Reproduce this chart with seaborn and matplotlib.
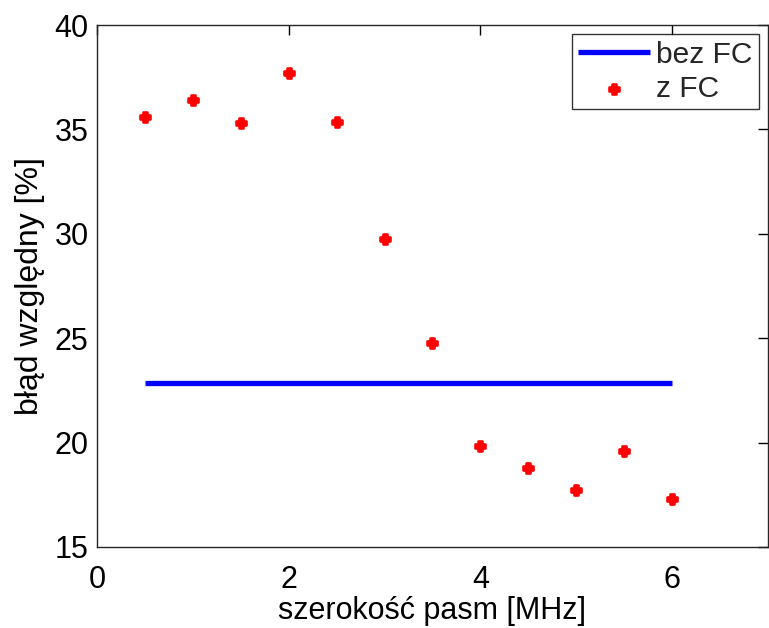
import matplotlib
matplotlib.use("Agg")
import matplotlib.pyplot as plt
import seaborn as sns
import pandas as pd

# Band width [MHz] and relative error [%]
bandwidth = [0.5, 1.0, 1.5, 2.0, 2.5, 3.0, 3.5, 4.0, 4.5, 5.0, 5.5, 6.0]
error_fc = [35.6, 36.4, 35.3, 37.7, 35.35, 29.75, 24.75, 19.85, 18.8, 17.75, 19.6, 17.3]
baseline_x = [0.5, 6.0]
baseline_err = [22.85, 22.85]

xticks = [0, 2, 4, 6]
yticks = [15, 20, 25, 30, 35, 40]

sns.set_theme(style="white")
plt.rcParams["font.family"] = ["Liberation Sans", "DejaVu Sans"]

fig = plt.figure(figsize=(7.69, 6.28), dpi=100)
ax = fig.add_axes([0.126, 0.129, 0.8727, 0.831])

df_fc = pd.DataFrame({"x": bandwidth, "y": error_fc})
df_base = pd.DataFrame({"x": baseline_x, "y": baseline_err})

sns.lineplot(data=df_base, x="x", y="y", ax=ax, color="#0000ff", linewidth=3.8,
             label="bez FC", solid_capstyle="butt")
sns.scatterplot(data=df_fc, x="x", y="y", ax=ax, color="#ff0000", marker="P",
                s=62, linewidth=1.9, edgecolor="#ff0000", label="z FC")

ax.set_xlim(0, 7)
ax.set_ylim(15, 40)
ax.set_xticks(xticks)
ax.set_yticks(yticks)
ax.tick_params(direction="in", length=7, width=1, top=True, right=True,
               labelsize=22, colors="black")
ax.tick_params(axis="x", pad=13)
ax.tick_params(axis="y", pad=6)
for side in ax.spines.values():
    side.set_color("#262626")
    side.set_linewidth(1.0)

ax.set_xlabel("szerokość pasm [MHz]", fontsize=22, labelpad=1, color="black")
ax.set_ylabel("błąd względny [%]", fontsize=23, labelpad=7, color="black")

leg = ax.legend(loc="upper right", fontsize=21.5, frameon=True, fancybox=False,
                handlelength=2.4, borderaxespad=0.3, borderpad=0.22,
                labelspacing=0.2, handletextpad=0.2)
leg.get_frame().set_edgecolor("black")
leg.get_frame().set_linewidth(1.0)

fig.savefig("out.png", dpi=100)
